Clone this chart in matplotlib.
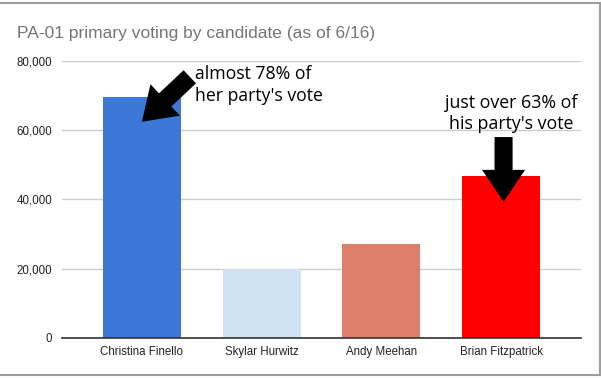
import matplotlib
matplotlib.use("Agg")
import matplotlib.pyplot as plt
from matplotlib.ticker import FuncFormatter
from matplotlib.lines import Line2D

candidates = ["Christina Finello", "Skylar Hurwitz", "Andy Meehan", "Brian Fitzpatrick"]
votes = [69600, 19800, 27200, 46800]
colors = ["#3c78d8", "#cfe2f3", "#dd7e6b", "#ff0000"]
y_ticks = [0, 20000, 40000, 60000, 80000]

title = "PA-01 primary voting by candidate (as of 6/16)"
note_left = "almost 78% of\nher party's vote"
note_right = "just over 63% of\nhis party's vote"

fig = plt.figure(figsize=(6.01, 3.78), dpi=100, facecolor="white")
ax = fig.add_axes([0.103, 0.106, 0.864, 0.733])

x = range(len(candidates))
ax.bar(x, votes, width=0.65, color=colors, zorder=3)

ax.set_xlim(-0.668, 3.668)
ax.set_ylim(0, 80000)
ax.set_yticks(y_ticks)
ax.yaxis.set_major_formatter(FuncFormatter(lambda v, p: f"{int(v):,}"))
ax.set_xticks(list(x))
ax.set_xticklabels(candidates)
ax.grid(axis="y", color="#cccccc", linewidth=1, zorder=0)
for s in ["top", "right", "left"]:
    ax.spines[s].set_visible(False)
ax.spines["bottom"].set_color("#333333")
ax.spines["bottom"].set_linewidth(1.2)
ax.spines["bottom"].set_zorder(4)
ax.tick_params(length=0, labelsize=8.3, labelcolor="#222222")
ax.tick_params(axis="y", pad=7)
ax.tick_params(axis="x", pad=6)
for lab in ax.get_xticklabels() + ax.get_yticklabels():
    lab.set_family("Liberation Sans")

fig.text(0.028, 0.912, title, fontsize=12.5, color="#757575",
         family="Liberation Sans", va="center", ha="left")

arrow = "simple,head_length=2.3,head_width=3.1,tail_width=1.3"
ax.annotate("", xy=(0.0, 62400), xytext=(0.40, 75400),
            arrowprops=dict(arrowstyle=arrow, mutation_scale=10, color="black",
                            shrinkA=0, shrinkB=0, lw=0), zorder=5)
ax.annotate("", xy=(3.02, 39300), xytext=(3.02, 58000),
            arrowprops=dict(arrowstyle=arrow, mutation_scale=10, color="black",
                            shrinkA=0, shrinkB=0, lw=0), zorder=5)

ax.text(0.44, 73100, note_left, fontsize=12.7, family="Open Sans", color="black",
        ha="left", va="center", linespacing=1.25, zorder=6, clip_on=False)
ax.text(3.08, 64800, note_right, fontsize=12.8, family="Open Sans", color="black",
        ha="center", va="center", linespacing=1.25, zorder=6, clip_on=False)

# frame of the screenshot
frame = dict(color="#9e9e9e", linewidth=1.5, transform=fig.transFigure)
fig.add_artist(Line2D([0, 0.998], [0.992, 0.992], **frame))
fig.add_artist(Line2D([0.998, 0.998], [0.008, 0.992], **frame))
fig.add_artist(Line2D([0, 0.998], [0.008, 0.008], **frame))

fig.savefig("out.png", dpi=100, facecolor="white")
